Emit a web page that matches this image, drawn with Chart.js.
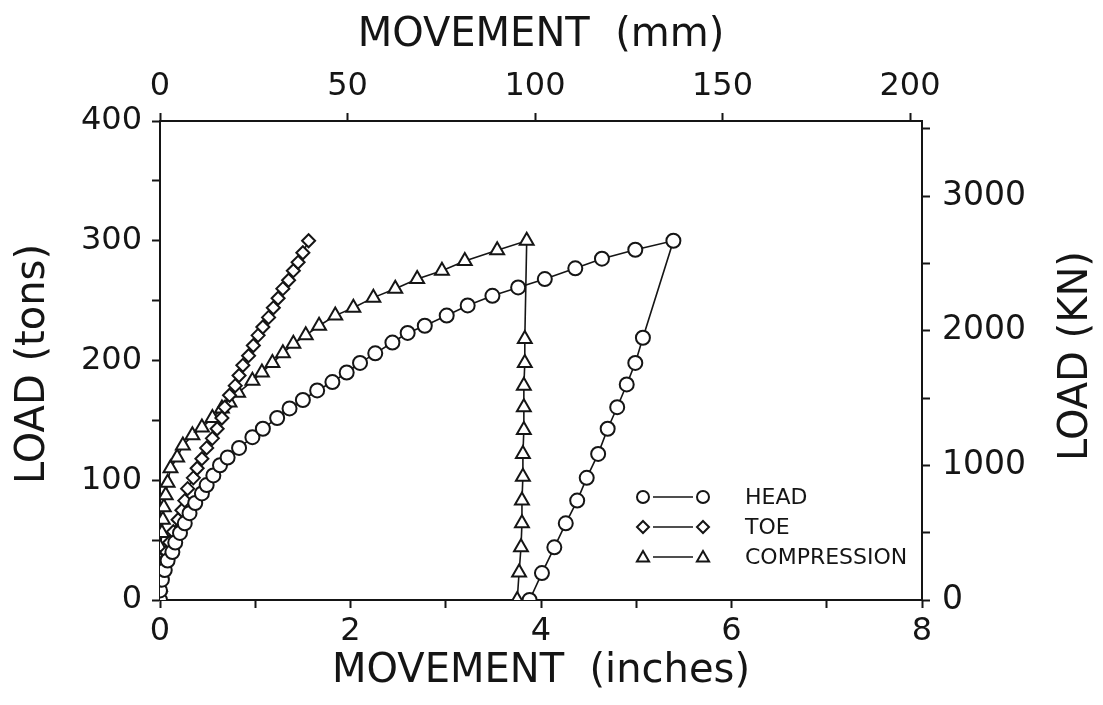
<!DOCTYPE html>
<html>
<head>
<meta charset="utf-8">
<script src="https://cdn.jsdelivr.net/npm/chart.js@4.4.0/dist/chart.umd.min.js"></script>
<style>
  html, body { margin: 0; padding: 0; background: #fff; }
  #wrap { width: 1103px; height: 705px; }
</style>
</head>
<body>
<div id="wrap"><canvas id="loadChart" width="1103" height="705"></canvas></div>
<script>
// movement (inches) and load (tons)
const headIn = [0, 0, 0.02, 0.05, 0.08, 0.13, 0.16, 0.21, 0.26, 0.31, 0.37, 0.44, 0.49, 0.56, 0.63, 0.71, 0.83, 0.97, 1.08, 1.23, 1.36, 1.50, 1.65, 1.81, 1.96, 2.10, 2.26, 2.44, 2.60, 2.78, 3.01, 3.23, 3.49, 3.76, 4.04, 4.36, 4.64, 4.99, 5.39,
  5.07, 4.99, 4.90, 4.80, 4.70, 4.60, 4.48, 4.38, 4.26, 4.14, 4.01, 3.88];
const headTons = [0, 8, 17, 25, 33, 40, 48, 56, 64, 72.5, 81, 89, 96, 104, 112.5, 119, 127, 136, 143, 152, 160, 167, 175, 182, 190, 198, 206, 215, 223, 229, 237.5, 246, 254, 261, 268, 277, 285, 292.5, 300,
  219, 198, 180, 161, 143, 122, 102, 83, 64, 44, 22.5, 0];

const toeIn = [0, 0, 0, 0, 0.03, 0.07, 0.10, 0.14, 0.19, 0.23, 0.26, 0.29, 0.35, 0.39, 0.44, 0.49, 0.55, 0.60, 0.65, 0.68, 0.73, 0.79, 0.83, 0.87, 0.93, 0.98, 1.03, 1.08, 1.14, 1.19, 1.24, 1.29, 1.35, 1.40, 1.45, 1.50, 1.56];
const toeTons = [0, 6, 14, 22, 32, 40, 48, 57, 67, 75, 83, 93, 102, 110, 118, 127, 135, 143, 152, 161, 171, 179, 187.5, 196, 204, 212.5, 221, 228, 236, 244, 252, 260, 267, 275, 282, 290, 300];

const compIn = [0, 0, 0.01, 0.01, 0, 0.02, 0.03, 0.04, 0.06, 0.08, 0.11, 0.18, 0.24, 0.34, 0.44, 0.55, 0.65, 0.73, 0.82, 0.97, 1.07, 1.18, 1.29, 1.40, 1.53, 1.67, 1.84, 2.03, 2.24, 2.47, 2.70, 2.96, 3.20, 3.54, 3.85,
  3.83, 3.83, 3.82, 3.82, 3.82, 3.81, 3.81, 3.80, 3.80, 3.79, 3.77, 3.75];
const compTons = [0, 11, 22, 33, 44, 56, 67, 77.5, 87.5, 98, 110, 119, 129, 137.5, 144, 152, 160, 165, 173, 183, 190, 198, 206, 214, 221, 229, 237.5, 244, 252.5, 260, 268, 275, 283, 292, 300,
  218, 198, 179, 161, 142, 122, 103, 83, 64, 44, 23, 0];

const seriesNames = ["HEAD", "TOE", "COMPRESSION"];
const inchTicks = [0, 1, 2, 3, 4, 5, 6, 7, 8];
const inchLabels = [0, 2, 4, 6, 8];
const mmTicks = [0, 50, 100, 150, 200];
const tonTicks = [0, 50, 100, 150, 200, 250, 300, 350, 400];
const tonLabels = [0, 100, 200, 300, 400];
const knTicks = [0, 500, 1000, 1500, 2000, 2500, 3000, 3500];
const knLabels = [0, 1000, 2000, 3000];

const MM_PER_IN = 25.4;
const KN_PER_TON = 8.896;
const ink = "#151515";
const family = "'DejaVu Sans', 'Liberation Sans', sans-serif";
const tickFont = { family: family, size: 32 };
const titleFont = { family: family, size: 40 };

function toPoints(xs, ys) {
  return xs.map((x, i) => ({ x: x, y: ys[i] }));
}

function series(label, xs, ys, style, radius) {
  return {
    label: label,
    data: toPoints(xs, ys),
    showLine: true,
    borderColor: ink,
    borderWidth: 1.6,
    pointStyle: style,
    pointRadius: radius,
    pointBorderWidth: 2,
    pointBorderColor: ink,
    pointBackgroundColor: "#fff",
    tension: 0
  };
}

function setTicks(list) {
  return (scale) => { scale.ticks = list.map((v) => ({ value: v })); };
}

function labelOnly(list) {
  return (v) => (list.includes(v) ? String(v) : "");
}

function drawMarker(ctx, style, x, y, r) {
  ctx.beginPath();
  if (style === "circle") {
    ctx.arc(x, y, r, 0, Math.PI * 2);
  } else if (style === "rectRot") {
    ctx.moveTo(x, y - r); ctx.lineTo(x + r, y); ctx.lineTo(x, y + r); ctx.lineTo(x - r, y);
    ctx.closePath();
  } else {
    ctx.moveTo(x, y - r); ctx.lineTo(x + r * 0.87, y + r * 0.5); ctx.lineTo(x - r * 0.87, y + r * 0.5);
    ctx.closePath();
  }
  ctx.fillStyle = "#fff";
  ctx.fill();
  ctx.stroke();
}

const extras = {
  id: "extras",
  afterDraw(chart) {
    const ctx = chart.ctx;
    const a = chart.chartArea;
    ctx.save();
    ctx.fillStyle = ink;
    ctx.strokeStyle = ink;
    ctx.font = "40px " + family;
    ctx.textAlign = "center";
    ctx.textBaseline = "middle";
    // side titles, both read bottom to top
    ctx.save();
    ctx.translate(34, a.top + 243);
    ctx.rotate(-Math.PI / 2);
    ctx.fillText("LOAD (tons)", 0, 0);
    ctx.restore();
    ctx.save();
    ctx.translate(1077, a.top + 235);
    ctx.rotate(-Math.PI / 2);
    ctx.fillText("LOAD (KN)", 0, 0);
    ctx.restore();

    // legend
    const styles = ["circle", "rectRot", "triangle"];
    const sizes = [6, 6, 7];
    ctx.font = "22px " + family;
    ctx.textAlign = "left";
    seriesNames.forEach((name, i) => {
      const y = a.top + 376 + i * 30;
      const x0 = a.left + 483;
      ctx.beginPath();
      ctx.lineWidth = 1.6;
      ctx.moveTo(x0 + 10, y);
      ctx.lineTo(x0 + 50, y);
      ctx.stroke();
      ctx.lineWidth = 2;
      drawMarker(ctx, styles[i], x0, y + (i === 2 ? 1 : 0), sizes[i]);
      drawMarker(ctx, styles[i], x0 + 60, y + (i === 2 ? 1 : 0), sizes[i]);
      ctx.fillStyle = ink;
      ctx.fillText(name, x0 + 102, y + 1);
    });
    ctx.restore();
  }
};

const axisGrid = { drawOnChartArea: false, drawTicks: true, tickLength: 8, tickWidth: 2, tickColor: ink };
const axisBorder = { display: true, width: 2, color: ink };

new Chart(document.getElementById("loadChart"), {
  type: "scatter",
  data: {
    datasets: [
      series(seriesNames[0], headIn, headTons, "circle", 7),
      series(seriesNames[1], toeIn, toeTons, "rectRot", 6.5),
      series(seriesNames[2], compIn, compTons, "triangle", 8)
    ]
  },
  options: {
    responsive: false,
    animation: false,
    layout: { padding: 0, autoPadding: false },
    plugins: { legend: { display: false }, tooltip: { enabled: false } },
    scales: {
      x: {
        type: "linear", position: "bottom", min: 0, max: 8,
        ticks: { color: ink, font: tickFont, padding: 4, maxRotation: 0, autoSkip: false, callback: labelOnly(inchLabels) },
        afterBuildTicks: setTicks(inchTicks),
        grid: axisGrid, border: axisBorder,
        title: { display: true, text: "MOVEMENT  (inches)", color: ink, font: titleFont, padding: { top: 0, bottom: 9 } },
        afterFit: (s) => { s.height = 105; }
      },
      x2: {
        type: "linear", position: "top", min: 0, max: 8 * MM_PER_IN,
        ticks: { color: ink, font: tickFont, padding: 7, maxRotation: 0, autoSkip: false, callback: (v) => String(v) },
        afterBuildTicks: setTicks(mmTicks),
        grid: axisGrid, border: axisBorder,
        title: { display: true, text: "MOVEMENT  (mm)", color: ink, font: titleFont, padding: { top: 12, bottom: 0 } },
        afterFit: (s) => { s.height = 121; }
      },
      y: {
        type: "linear", position: "left", min: 0, max: 400,
        ticks: { color: ink, font: tickFont, padding: 10, autoSkip: false, callback: labelOnly(tonLabels) },
        afterBuildTicks: setTicks(tonTicks),
        grid: axisGrid, border: axisBorder,
        afterFit: (s) => { s.width = 160; }
      },
      y2: {
        type: "linear", position: "right", min: 0, max: 400 * KN_PER_TON,
        ticks: { color: ink, font: { family: family, size: 33 }, padding: 12, autoSkip: false, callback: labelOnly(knLabels) },
        afterBuildTicks: setTicks(knTicks),
        grid: axisGrid, border: axisBorder,
        afterFit: (s) => { s.width = 181; }
      }
    }
  },
  plugins: [extras]
});
</script>
</body>
</html>
